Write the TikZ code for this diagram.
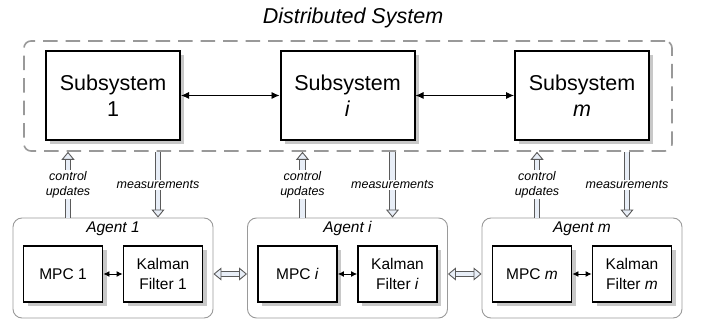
\documentclass[tikz,border=0pt]{standalone}
\usepackage{fontspec}
\setmainfont{Liberation Sans}
\usepackage{tikz}
\usetikzlibrary{
  arrows.meta,
  calc,
  positioning,
  shadows
}
\definecolor{dsFrame}{HTML}{999999}
\definecolor{dsAgent}{HTML}{9A9A9A}
\definecolor{dsArrowEdge}{HTML}{5A5A5A}
\definecolor{dsArrowFill}{HTML}{E8EEF7}
\definecolor{dsShadow}{HTML}{C8C8C8}
\tikzset{
  sysFrame/.style={
    draw=dsFrame,
    line width=1.6pt,
    dash pattern=on 14.5pt off 8pt,
    rounded corners=7pt,
    minimum width=648pt,
    minimum height=110pt
  },
  subsysBox/.style={
    draw=black,
    line width=2pt,
    fill=white,
    align=center,
    font=\fontsize{21.5}{26}\selectfont,
    minimum width=134pt,
    minimum height=89pt,
    drop shadow={shadow xshift=4pt, shadow yshift=-4pt, fill=dsShadow, opacity=1}
  },
  agentBox/.style={
    draw=dsAgent,
    line width=0.9pt,
    rounded corners=9pt,
    minimum width=200pt,
    minimum height=100pt
  },
  agentLabel/.style={
    font=\fontsize{15.5}{19}\selectfont\itshape,
    inner sep=0pt
  },
  innerBox/.style={
    draw=black,
    line width=1.9pt,
    fill=white,
    align=center,
    font=\fontsize{15.5}{19.5}\selectfont,
    minimum width=79pt,
    minimum height=56pt,
    drop shadow={shadow xshift=4pt, shadow yshift=-4pt, fill=dsShadow, opacity=1}
  },
  titleLabel/.style={font=\fontsize{21.5}{26}\selectfont\itshape},
  linkArrow/.style={{Latex[length=8pt,width=7pt]}-{Latex[length=8pt,width=7pt]}, line width=0.9pt},
  smallLink/.style={{Latex[length=6pt,width=6pt]}-{Latex[length=6pt,width=6pt]}, line width=0.9pt},
  blockArrow/.style={
    draw=dsArrowEdge,
    line width=0.9pt,
    double=dsArrowFill,
    double distance=4.6pt,
    -{Triangle[open, fill=dsArrowFill, length=8pt, width=13pt, line width=0.9pt]}
  },
  blockArrowBoth/.style={
    blockArrow,
    {Triangle[open, fill=dsArrowFill, length=8pt, width=13pt, line width=0.9pt]}-{Triangle[open, fill=dsArrowFill, length=8pt, width=13pt, line width=0.9pt]}
  },
  flowLabel/.style={
    font=\fontsize{12.5}{15}\selectfont\itshape,
    fill=white,
    align=center,
    inner sep=1pt
  }
}

\begin{document}
\begin{tikzpicture}[x=1pt,y=-1pt]
  \useasboundingbox (0,0) rectangle (707,320);

  \node[titleLabel] (title) at (353,18) {Distributed System};
  \node[sysFrame] (sys) at (348,96) {};

  % subsystems and agents
  \foreach \n/\x/\lbl in {1/113/1, i/347.5/\textit{i}, m/582/\textit{m}} {
    \node[subsysBox] (s\n) at (\x,95.5) {Subsystem\\\lbl};
    \node[agentBox] (a\n) at (\x,268) {};
    \node[agentLabel] (al\n) at ([yshift=-11pt]a\n.north) {Agent \lbl};
    \node[innerBox] (mpc\n) at ([xshift=-50pt,yshift=-6pt]a\n.center) {MPC \lbl};
    \node[innerBox] (kf\n) at ([xshift=50pt,yshift=-6pt]a\n.center) {Kalman\\Filter \lbl};
    \draw[smallLink] (mpc\n) -- (kf\n);
    \draw[blockArrow] ([xshift=-45pt]a\n.north) --
      node[flowLabel] {control\\updates}
      ([xshift=-45pt]a\n.north |- sys.south);
    \draw[blockArrow] ([xshift=45pt]a\n.north |- sys.south) --
      node[flowLabel] {measurements}
      ([xshift=45pt]a\n.north);
  }

  \draw[linkArrow] (s1) -- (si);
  \draw[linkArrow] (si) -- (sm);

  \draw[blockArrowBoth] (a1.east |- kf1) -- (ai.west |- mpci);
  \draw[blockArrowBoth] (ai.east |- kfi) -- (am.west |- mpcm);
\end{tikzpicture}
\end{document}
